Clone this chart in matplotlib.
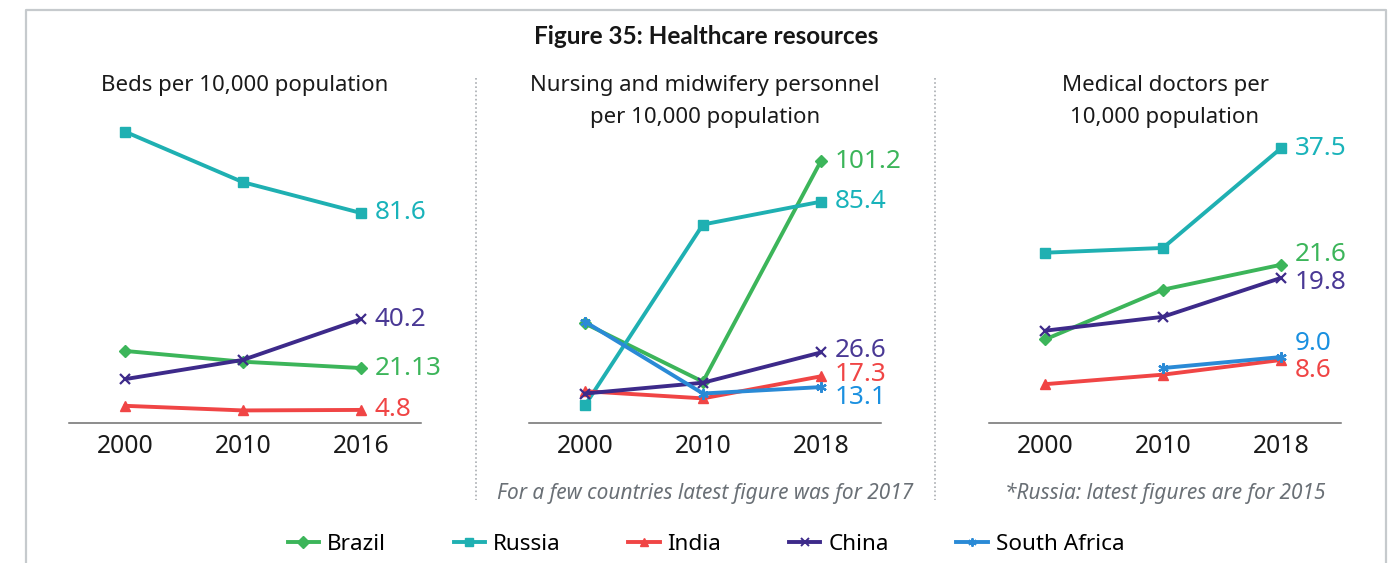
import numpy as np
import matplotlib
matplotlib.use("Agg")
import matplotlib.pyplot as plt
from matplotlib.lines import Line2D

plt.rcParams['font.family'] = ['Noto Sans', 'DejaVu Sans']

countries = ["Brazil", "Russia", "India", "China", "South Africa"]
colors = {"Brazil": "#3cb55a", "Russia": "#1fb0b2", "India": "#f04545",
          "China": "#3d2a8a", "South Africa": "#2a8ad6"}
label_colors = {"Brazil": "#3cb55a", "Russia": "#19b3ba", "India": "#f04545",
                "China": "#4a3995", "South Africa": "#1a90e0"}
markers = {"Brazil": "D", "Russia": "s", "India": "^", "China": "x",
           "South Africa": (6, 2, 0)}

years_beds = ["2000", "2010", "2016"]
years_staff = ["2000", "2010", "2018"]

beds_brazil = [27.8, 23.6, 21.13]
beds_russia = [113.3, 93.6, 81.6]
beds_india = [6.4, 4.6, 4.8]
beds_china = [16.8, 24.3, 40.2]

nurses_brazil = [37.9, 15.2, 101.2]
nurses_russia = [6.0, 76.5, 85.4]
nurses_india = [11.5, 8.7, 17.3]
nurses_china = [10.6, 14.8, 26.6]
nurses_safrica = [38.6, 10.6, 13.1]

doctors_brazil = [11.4, 18.2, 21.6]
doctors_russia = [23.25, 23.9, 37.5]
doctors_india = [5.3, 6.6, 8.6]
doctors_china = [12.6, 14.5, 19.8]
doctors_safrica = [np.nan, 7.5, 9.0]

panels = [
    dict(title=["Beds per 10,000 population"], years=years_beds,
         data={"Brazil": beds_brazil, "Russia": beds_russia,
               "India": beds_india, "China": beds_china},
         ylim=(-0.3, 119.8), note=None,
         offsets={"Brazil": 0, "Russia": 0, "India": 0, "China": 0}),
    dict(title=["Nursing and midwifery personnel", "per 10,000 population"],
         years=years_staff,
         data={"Brazil": nurses_brazil, "Russia": nurses_russia,
               "India": nurses_india, "China": nurses_china,
               "South Africa": nurses_safrica},
         ylim=(-0.9, 119.2),
         note="For a few countries latest figure was for 2017",
         offsets={"Brazil": 0, "Russia": 0, "India": 2, "China": 2,
                  "South Africa": -10}),
    dict(title=["Medical doctors per", "10,000 population"], years=years_staff,
         data={"Brazil": doctors_brazil, "Russia": doctors_russia,
               "India": doctors_india, "China": doctors_china,
               "South Africa": doctors_safrica},
         ylim=(0, 42.05),
         note="*Russia: latest figures are for 2015",
         offsets={"Brazil": 10, "Russia": 0, "India": -10, "China": -5,
                  "South Africa": 14}),
]

W, H = 1396, 563
fig = plt.figure(figsize=(W / 100, H / 100), dpi=100)

lefts = [69, 529, 989]
ax_w = 352
ax_bottom = 423
ax_h = 308

for left, p in zip(lefts, panels):
    ax = fig.add_axes([left / W, 1 - ax_bottom / H, ax_w / W, ax_h / H])
    x = np.arange(len(p["years"]))
    for c in countries:
        if c not in p["data"]:
            continue
        y = np.array(p["data"][c], dtype=float)
        ms = 6.5 if c == "Brazil" else 7.5
        ax.plot(x, y, color=colors[c], lw=2.8, marker=markers[c],
                markersize=ms,
                markeredgewidth=1.6 if c in ("China", "South Africa") else 1,
                label=c, solid_capstyle='round')
        ax.annotate(str(y[-1]), (x[-1], y[-1]), xytext=(14, p["offsets"][c]),
                    textcoords='offset pixels', ha='left', va='center',
                    fontsize=18.8, color=label_colors[c])
    ax.set_xlim(-0.475, 2.51)
    ax.set_ylim(*p["ylim"])
    ax.set_xticks(x)
    ax.set_xticklabels(p["years"], fontsize=17.8, color="#1a1a1a")
    ax.tick_params(axis='x', length=0, pad=8)
    ax.set_yticks([])
    for s in ("top", "right", "left"):
        ax.spines[s].set_visible(False)
    ax.spines["bottom"].set_color("#6e6e6e")
    ax.spines["bottom"].set_linewidth(1.1)
    ax.patch.set_visible(False)
    cx = (left + ax_w / 2) / W
    for i, line in enumerate(p["title"]):
        fig.text(cx, 1 - (85 + 32 * i) / H, line, ha='center', va='center',
                 fontsize=16, color="#1a1a1a")
    if p["note"]:
        fig.text(cx, 1 - 493 / H, p["note"], ha='center', va='center',
                 fontsize=15, style='italic', color="#6a7076")

fig.text(706 / W, 1 - 37 / H, "Figure 35: Healthcare resources", ha='center',
         va='center', fontsize=17.5, weight='bold', color="#161616",
         family=['Lato', 'DejaVu Sans'])

# dotted separators
for sx in (476, 935):
    fig.add_artist(Line2D([sx / W, sx / W], [1 - 78 / H, 1 - 500 / H],
                          transform=fig.transFigure, color="#a9adb1", lw=1.2,
                          linestyle=(0, (1, 1.5))))
# frame
fc = "#c6cacd"
fig.add_artist(Line2D([26 / W, 26 / W, 1386 / W, 1386 / W],
                      [0, 1 - 10 / H, 1 - 10 / H, 0],
                      transform=fig.transFigure, color=fc, lw=1.6))

handles = [Line2D([], [], color=colors[c], lw=2.8, marker=markers[c],
                  markersize=6,
                  markeredgewidth=1.4 if c in ("China", "South Africa") else 1)
           for c in countries]
fig.legend(handles, countries, loc='center', bbox_to_anchor=(706 / W, 1 - 544 / H),
           ncol=5, frameon=False, fontsize=16.2, handlelength=1.4,
           handletextpad=0.35, columnspacing=3.0)

fig.savefig("out.png", dpi=100, facecolor="white")
